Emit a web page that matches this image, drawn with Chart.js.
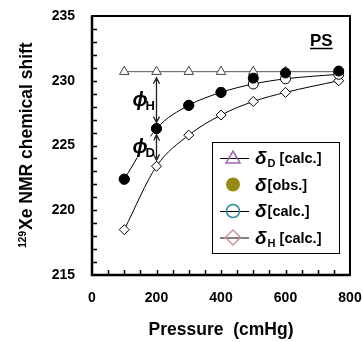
<!DOCTYPE html>
<html>
<head>
<meta charset="utf-8">
<script src="https://cdn.jsdelivr.net/npm/chart.js@4/dist/chart.umd.min.js"></script>
<style>
  html, body { margin: 0; padding: 0; background: #fff; }
  canvas { display: block; }
</style>
</head>
<body>
<canvas id="c" width="363" height="342"></canvas>
<script>
// pressure (cmHg)
const pressure = [100, 200, 300, 400, 500, 600, 765];
// chemical shifts (ppm)
const deltaD = [230.7, 230.7, 230.7, 230.7, 230.7, 230.7, 230.7];
const deltaObs = [222.4, 226.3, 228.1, 229.1, 230.2, 230.6, 230.75];
const deltaCalc = [222.4, 226.3, 228.1, 229.1, 229.75, 230.15, 230.5];
const deltaH = [218.5, 223.4, 225.8, 227.35, 228.4, 229.1, 230.0];

const legendSubs = ["D", "", "", "H"];
const legendTexts = [" [calc.]", "[obs.]", "[calc.]", " [calc.]"];
const legendColors = ["#a068b8", "#978a12", "#2a8c9c", "#d09494"];
const legendStyles = ["triangle", "circle", "circle", "diamond"];

const FONT = "'Liberation Sans', Arial, sans-serif";

function pts(ys) {
  return pressure.map((x, i) => ({ x: x, y: ys[i] }));
}

// frame, inward ticks, arrows, labels, legend
const decor = {
  id: "decor",
  afterDatasetsDraw(chart) {
    const ctx = chart.ctx;
    const ca = chart.chartArea;
    const xs = chart.scales.x;
    const ys = chart.scales.y;
    ctx.save();

    // frame
    ctx.strokeStyle = "#000";
    ctx.lineWidth = 2;
    ctx.strokeRect(ca.left, ca.top, ca.right - ca.left, ca.bottom - ca.top);
    ctx.lineWidth = 2.5;
    ctx.beginPath();
    ctx.moveTo(ca.left, ca.top);
    ctx.lineTo(ca.left, ca.bottom);
    ctx.lineTo(ca.right, ca.bottom);
    ctx.stroke();

    // minor ticks
    ctx.lineWidth = 1.5;
    ctx.beginPath();
    for (let v = 216; v < 235; v++) {
      const y = Math.round(ys.getPixelForValue(v)) + 0.5;
      ctx.moveTo(ca.left, y);
      ctx.lineTo(ca.left + 5, y);
    }
    for (let v = 50; v < 800; v += 50) {
      const x = Math.round(xs.getPixelForValue(v)) + 0.5;
      ctx.moveTo(x, ca.bottom);
      ctx.lineTo(x, ca.bottom - 5);
    }
    ctx.stroke();

    // phi arrows at 200 cmHg
    const ax = xs.getPixelForValue(pressure[1]);
    const yTop = ys.getPixelForValue(deltaD[1]);
    const yMid = ys.getPixelForValue(deltaObs[1]);
    const yBot = ys.getPixelForValue(deltaH[1]);
    function arrow(y1, y2) {
      ctx.beginPath();
      ctx.moveTo(ax, y1 + 6);
      ctx.lineTo(ax, y2 - 6);
      ctx.moveTo(ax - 3, y1 + 12);
      ctx.lineTo(ax, y1 + 6);
      ctx.lineTo(ax + 3, y1 + 12);
      ctx.moveTo(ax - 3, y2 - 12);
      ctx.lineTo(ax, y2 - 6);
      ctx.lineTo(ax + 3, y2 - 12);
      ctx.stroke();
    }
    ctx.strokeStyle = "#222";
    ctx.lineWidth = 1.3;
    arrow(yTop, yMid);
    arrow(yMid, yBot);

    function phi(sub, y) {
      const x = ax - 24;
      ctx.fillStyle = "#fff";
      ctx.fillRect(x - 1, y - 11, 22, 21);
      ctx.fillStyle = "#000";
      ctx.textBaseline = "alphabetic";
      ctx.textAlign = "left";
      ctx.font = "italic bold 20px " + FONT;
      ctx.fillText("\u03D5", x, y + 6);
      ctx.font = "bold 13px " + FONT;
      ctx.fillText(sub, x + 13, y + 10);
    }
    phi("H", (yTop + yMid) / 2);
    phi("D", (yMid + yBot) / 2);

    // PS label
    ctx.font = "bold 17px " + FONT;
    ctx.textAlign = "left";
    ctx.textBaseline = "alphabetic";
    ctx.fillStyle = "#000";
    ctx.strokeStyle = "#000";
    const psW = ctx.measureText("PS").width;
    const psX = ca.right - 40;
    const psY = ca.top + 30;
    ctx.fillText("PS", psX, psY);
    ctx.lineWidth = 1.5;
    ctx.beginPath();
    ctx.moveTo(psX, psY + 2.5);
    ctx.lineTo(psX + psW, psY + 2.5);
    ctx.stroke();

    // legend
    const lx = ca.right - 138, ly = ca.top + 126, lw = 127, lh = 111;
    ctx.fillStyle = "#fff";
    ctx.fillRect(lx, ly, lw, lh);
    ctx.strokeStyle = "#000";
    ctx.lineWidth = 1;
    ctx.strokeRect(lx + 0.5, ly + 0.5, lw, lh);
    for (let i = 0; i < legendTexts.length; i++) {
      const ry = ly + 16 + i * 26.5;
      const mx = lx + 21;
      if (i !== 1) {
        ctx.strokeStyle = "#000";
        ctx.lineWidth = 1;
        ctx.beginPath();
        ctx.moveTo(lx + 8, ry + 0.5);
        ctx.lineTo(lx + 37, ry + 0.5);
        ctx.stroke();
      }
      ctx.fillStyle = legendColors[i];
      ctx.strokeStyle = legendColors[i];
      ctx.lineWidth = 1.5;
      ctx.beginPath();
      if (legendStyles[i] === "circle") {
        ctx.arc(mx, ry, i === 1 ? 7 : 6.5, 0, Math.PI * 2);
      } else if (legendStyles[i] === "triangle") {
        ctx.moveTo(mx, ry - 7);
        ctx.lineTo(mx + 7, ry + 5);
        ctx.lineTo(mx - 7, ry + 5);
        ctx.closePath();
      } else {
        ctx.moveTo(mx, ry - 7.5);
        ctx.lineTo(mx + 7.5, ry);
        ctx.lineTo(mx, ry + 7.5);
        ctx.lineTo(mx - 7.5, ry);
        ctx.closePath();
      }
      if (i === 1) ctx.fill(); else ctx.stroke();

      let tx = lx + 43;
      ctx.fillStyle = "#000";
      ctx.font = "italic bold 19px " + FONT;
      ctx.fillText("\u03B4", tx, ry + 6);
      tx += ctx.measureText("\u03B4").width + 1;
      if (legendSubs[i]) {
        ctx.font = "bold 11px " + FONT;
        ctx.fillText(legendSubs[i], tx, ry + 9);
        tx += ctx.measureText(legendSubs[i]).width;
      }
      ctx.font = "bold 14.5px " + FONT;
      ctx.fillText(legendTexts[i], tx, ry + 5);
    }

    // y title with superscript
    ctx.save();
    ctx.translate(26, (ca.top + ca.bottom) / 2);
    ctx.rotate(-Math.PI / 2);
    ctx.fillStyle = "#000";
    ctx.textBaseline = "alphabetic";
    ctx.textAlign = "left";
    ctx.font = "bold 10px " + FONT;
    const supW = ctx.measureText("129").width;
    ctx.font = "bold 17.5px " + FONT;
    const mainW = ctx.measureText("Xe NMR chemical shift").width;
    const sx = -(supW + mainW) / 2;
    ctx.font = "bold 10px " + FONT;
    ctx.fillText("129", sx, 0);
    ctx.font = "bold 17.5px " + FONT;
    ctx.fillText("Xe NMR chemical shift", sx + supW + 1, 6);
    ctx.restore();

    ctx.restore();
  }
};

new Chart(document.getElementById("c"), {
  type: "line",
  data: {
    datasets: [
      {
        label: "obs",
        data: pts(deltaObs),
        showLine: false,
        pointStyle: "circle",
        pointRadius: 5,
        pointBackgroundColor: "#000",
        pointBorderColor: "#000",
        order: 0
      },
      {
        label: "calc",
        data: pts(deltaCalc),
        borderColor: "#000",
        borderWidth: 1,
        cubicInterpolationMode: "monotone",
        pointStyle: "circle",
        pointRadius: 5,
        pointBorderWidth: 1,
        pointBackgroundColor: "#fff",
        pointBorderColor: "#000",
        order: 1
      },
      {
        label: "deltaD",
        data: pts(deltaD),
        borderColor: "#555",
        borderWidth: 1,
        pointStyle: "triangle",
        pointRadius: 5.5,
        pointBorderWidth: 1,
        pointBackgroundColor: "#fff",
        pointBorderColor: "#444",
        order: 2
      },
      {
        label: "deltaH",
        data: pts(deltaH),
        borderColor: "#000",
        borderWidth: 1,
        cubicInterpolationMode: "monotone",
        pointStyle: "rectRot",
        pointRadius: 5,
        pointBorderWidth: 1,
        pointBackgroundColor: "#fff",
        pointBorderColor: "#000",
        order: 3
      }
    ]
  },
  options: {
    responsive: false,
    devicePixelRatio: 1,
    animation: false,
    layout: { padding: { top: 16, right: 13, left: 0, bottom: 0 } },
    plugins: { legend: { display: false }, tooltip: { enabled: false } },
    scales: {
      x: {
        type: "linear",
        min: 0,
        max: 800,
        grid: { display: false, drawTicks: false },
        border: { display: false },
        ticks: {
          stepSize: 200,
          padding: 15,
          color: "#000",
          font: { family: FONT, size: 14, weight: "bold" }
        },
        title: {
          display: true,
          text: "Pressure  (cmHg)",
          color: "#000",
          font: { family: FONT, size: 17.5, weight: "bold" },
          padding: { top: 0, bottom: 1 }
        },
        afterFit(s) {
          s.height = 67;
          s.paddingLeft = 0;
          s.paddingRight = 0;
        }
      },
      y: {
        min: 215,
        max: 235,
        grid: { display: false, drawTicks: false },
        border: { display: false },
        ticks: {
          stepSize: 5,
          padding: 17,
          color: "#000",
          font: { family: FONT, size: 14, weight: "bold" }
        },
        afterFit(s) {
          s.width = 92;
          s.paddingTop = 0;
          s.paddingBottom = 0;
        }
      }
    }
  },
  plugins: [decor]
});
</script>
</body>
</html>
